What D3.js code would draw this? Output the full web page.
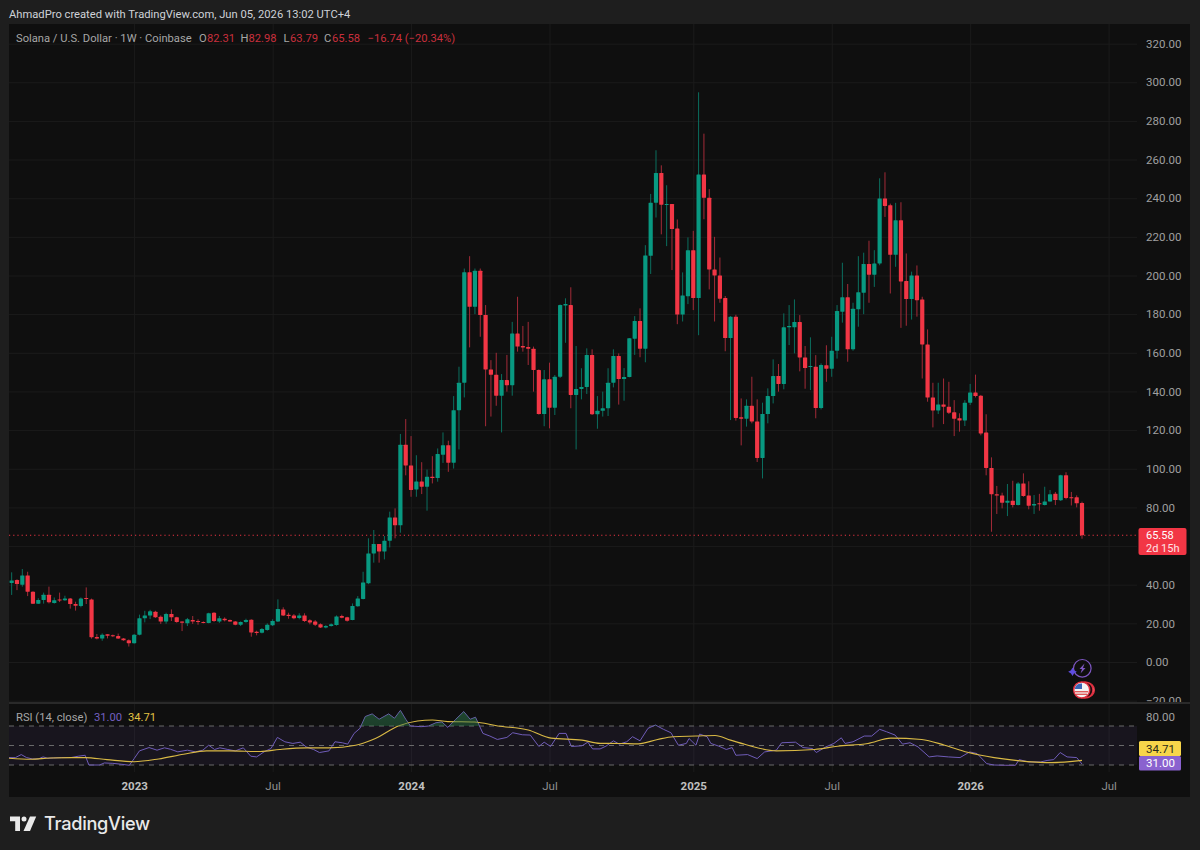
<!DOCTYPE html>
<html>
<head>
<meta charset="utf-8">
<script src="https://cdn.jsdelivr.net/npm/d3@7/dist/d3.min.js"></script>
<style>
html,body{margin:0;padding:0;background:#1e1e1e;width:1200px;height:850px;overflow:hidden}
text{font-family:Roboto,Inter,"Noto Sans",sans-serif}
</style>
</head>
<body>
<svg id="c" width="1200" height="850"></svg>
<script>
const opens=[40.9,42.4,40,44.8,36.4,30.2,32.1,34.8,30.5,32.4,31.9,32.8,30,29,33.1,32.4,12.9,12.1,14.3,13.8,13.4,12.2,11.2,9.7,14.1,22.6,24,26,23.4,20.9,24.8,23.1,20.9,20,21.7,21.2,20.7,20.2,25.5,20.9,22.4,21.7,21,19.3,20.7,21.9,15.7,15.2,16.6,19,21,27.2,24.5,24.1,22.8,24.1,21.6,20.9,19.5,17.9,18.6,19.1,23.8,23.1,21.7,28.8,32.6,40.7,56.2,61,57.2,62.8,74.8,70.7,112.4,101.7,89.3,93.4,90.7,95.9,95.2,107.3,112.2,103.1,130.3,144.5,201.7,183.8,202.4,179.5,151.4,148.7,137.8,145.9,143.2,170,163.5,163,162.1,151.1,128.3,146.3,131.6,147.6,184.5,184.7,138.2,141.3,142.3,158.9,128.2,130,131.3,144.5,158.3,146.4,147.5,167.3,176.5,162.1,210.2,237.7,253,236.6,237,224.3,179.8,189.3,213.1,188.3,252.2,240.2,203.1,200,188.3,167.6,178.7,126.6,125.9,132.6,124.5,105.6,128.3,137.6,148,143.9,173.2,173.2,175.9,157.6,152.8,152.8,131.4,153.5,151.8,161.1,181.3,188.7,161.8,182.5,191.1,205.9,200.4,206.2,239.9,236.4,210.7,228.6,197.1,187.8,200,187.6,164.3,136.9,130.2,133.3,132.1,129.2,126.1,125,134.2,139.4,137.8,118.7,100.4,86.8,86.2,82.4,83.5,81.2,92.4,86.1,81,82.1,81.2,83.1,87.1,83.7,96.6,85.2,85.2,82.31];
const highs=[46.4,42.8,48.1,46.7,36.6,33,35.9,39,33.4,35.9,34.3,33.1,31.2,33.4,38.6,32.8,14.5,14.8,14.3,14.2,14.7,12.4,11.7,14.5,24.5,26.5,27,26.5,24.1,25.5,27.2,23.4,21,22.8,23.8,22.1,21,25.5,25.8,23.8,23.1,22,21.2,21,22.4,22.1,16.2,17.6,20,22.1,32.4,28.3,25.5,24.8,25.2,25.2,22.1,21.7,20,19.1,20,24.1,24.5,23.4,30.3,34.1,46.7,64,68.3,61,65.2,77.8,79.5,118,125.7,116.9,107,103.4,99.6,106.5,110.5,118.8,114.5,137.6,152.8,203.6,210,203.6,203.6,184.7,156.2,160,149,158.9,176,189,173.9,176,163.2,151.4,151.1,154.9,148.5,185,188.2,193.9,163.5,152,162.3,161.8,137.6,139.9,152,161.8,159.7,152.1,167.6,179,183,215.7,242.2,264.8,257,246.7,237,229,201.6,219.7,223.1,294.8,273.4,244.7,220,209.3,189.4,179,179.7,136.4,135.9,147.6,135.9,134.2,141.6,156.6,154.2,180.4,184.7,187.6,179.5,163.5,168,158.8,154.5,163.9,168.3,184.7,206.6,195.6,185.9,210,211.8,218,213.1,250.3,253.4,237.2,237.6,237.9,211.4,202,205.2,189,172.1,144.5,144.5,146.7,145,135.5,128.7,135.5,143.9,148.7,138.2,128.2,105.9,91.1,87.6,92.1,93.8,93.1,97.6,93.5,86.4,87,90.7,89,88,96.9,98.2,88,86.2,82.98];
const lows=[34.7,37.2,39,34.1,30,30,30.2,30.3,30.2,31,31.6,27.6,26.6,28.3,30,12.1,11.7,11,12.2,12.9,11.9,11,8,9.5,13.8,20.5,22.2,22.8,19.7,19.8,21.2,20.3,16,18.6,19.7,19.3,20,20,20.7,20.2,21,20.7,19,18.6,20.3,13.1,13.8,14.8,16.2,18.6,20.7,23.8,22.4,22.1,22.1,20.7,19.5,18.6,17.6,17.4,18.3,18.8,22.6,20.9,21.6,28.6,32.4,40.3,51.4,51.4,53.1,59.3,64,66.9,96.6,85.5,85.5,86.9,78.3,92.4,93.3,103,98.4,100.1,110,136.9,162.8,180,168.3,122,127,132.6,118.8,139.9,137.8,160.6,160.6,153.7,139.9,128,122,120.9,127.8,147,165.2,131.3,110,135.9,138.7,127.8,120.7,127,127.3,142.1,133.2,135.2,147.3,158.9,157.7,155.1,200.8,230,221.3,215.2,202.8,174.8,176.2,185.2,182.1,169.1,229.1,192.8,176.2,185.9,160.8,125.2,124.9,112.1,121.8,123.5,103.5,95,123.5,133.8,139.9,141.1,164,159.7,150.4,141.4,140.7,126.1,130.7,145,147.6,157,175.6,155.4,161.1,173.5,180,185.9,194.1,205.3,230.3,190.7,204.5,172.9,174,177.2,178.7,146.7,134.7,121.4,128.3,123.1,128.3,116.9,119.2,122.1,133,136.9,117.3,96.6,67.4,76.6,79.5,75.5,80,81,85.5,79,76.6,78.3,81,83,81.2,83.3,84.2,81,80,63.79];
const closes=[42.2,40.3,44.8,36.4,30.2,32.1,34.8,30.9,32,32.1,32.8,30,29.1,32.8,32.8,12.8,12.1,14.1,13.6,13.3,12.1,11.2,9.7,14.1,22.6,24.1,26.2,23.1,20.9,24.8,23.1,20.7,20.3,22.1,20.9,20.7,20.3,25.2,21.2,22.6,21.6,20.9,19.3,20.7,21.7,15.3,15,17.1,19.3,21.2,27.4,24.1,23.8,22.6,24.1,21.2,20.5,19.3,17.9,18.6,19.5,23.6,22.9,21.4,29,32.9,41.2,56.2,61,57.2,62.8,74.8,70.7,112.4,101.7,89,93.4,90.7,95.9,95.2,107.6,112.2,103.1,130.3,144.5,201.7,183.8,202.4,179.5,151.4,148.7,137.8,145.9,143.2,170,163.2,162.8,162.1,151.1,128.3,146.3,131.6,147.6,184.7,185.2,138.2,141.3,142.3,158.9,128.2,130,131.3,144.5,158.3,146.4,147.5,167.5,176.5,162.1,210.4,237.7,253,236.6,237,224,179.8,189.7,213.1,188.3,252.2,240.2,203.1,200,188,167.6,178.7,126.3,125.9,132.6,124.5,105.6,128.3,137.6,148,143.9,173.2,173.9,175.9,157.6,152.1,153.2,131.4,153.7,151.8,161.1,181.6,188.7,161.8,182.8,191.3,205.9,200.4,206.2,239.9,236,210.7,228.6,196.9,187.8,200,187.2,164.3,136.9,130.2,133.3,132.1,129,125.9,125,134.2,139.4,137.6,118.3,100.4,86.8,86.1,82.4,83.5,81.2,92.4,85.9,80.9,81.8,81.6,83.1,86.8,83.8,96.6,84.9,84.7,82.1,65.58];

const rsiBars=[0.5,1.7,2.8,3.8,4.9,6,6.9,7.8,8.9,10.3,12.1,13.5,14.8,15.5,17.5,18.4,20,21.7,23.1,24,25,26.8,28.3,29.7,30.8,32.2,34,35.5,36.9,38,39.1,40.1,41.6,43,44.5,45.9,47,48.4,49.7,50.9,52.3,53.8,55.2,56.3,57.7,58.8,60.6,61.7,63.1,64.1,65.3,66.4,67.4,68.7,70,71.8,72.9,74,75,75.9,77.9,79.3,80.7,81.8,82.9,84.4,85.9,87.1,88.1,89.5,90.8,92.2,94,95.1,96.9,98.4,100,101,102.2,103.8,105.1,106.1,108.1,109.2,110.1,111.5,112.6,114,115.1,116.5,117.6,119,120.5,121.9,123.4,124.8,126.2,127.7,128.2,129.5,130.2,131.6,132.3,133.8,135.2,136.3,137,139.2,141,142.4,144.6,145.6,148.2,149.6,151.4,152.1,153.9,155.4,156.8,157.5,159,161.1,162.5,164,165.3,166.9,168.3,169.7,171.2,173.3,174.8,176.9,179.1,180.9,182.3,184.1,185.5,187.7,189.5,190.2,192,194.2,195.6,196.7,197.9,199.2,201,202];
const rsiValues=[37.6,37.6,40.7,37.6,36.2,36.2,38.3,36.9,37.2,37.6,37.6,39,40,30,30,32.1,31.7,30.7,29.7,36.6,44.5,47.9,45.2,47.6,46.2,43.5,45.2,43.5,45.2,50.3,45.9,47.6,45.9,44.5,47.6,39,38.3,43.5,46.9,58.3,53.8,52.1,53.4,48.6,45.9,42.8,44.5,53.8,52.8,51.4,62.4,67.6,79.7,82.4,76.9,82.4,77.9,86,76.9,70,69.3,70,73.4,74.1,68.6,76.9,84.8,76.9,79,62.4,59.7,56.2,58.3,63.1,61,60.7,49,53.4,49,62.4,62.4,49,49.7,53.4,46.5,46.5,49.3,54.8,51.4,53.8,59,54.8,67.6,71,66.6,63.1,50.3,52.1,57.2,50.3,61.7,59,52.1,49.3,45.9,47.9,40,40.7,36.6,43.4,45.2,52.8,53.4,47.9,46.9,42.8,48.6,52.1,57.9,52.1,53.8,59.7,59.7,66.6,64.1,60.7,51.4,52.8,48.6,38.3,39.3,38.3,37.6,43.4,41.7,31.4,30,29.7,29.7,35.5,33.1,33.1,34.8,35.5,42.8,38.3,37.6,31];
const maBars=[0.5,4.6,8.2,12.1,14.8,18.9,24,28.6,33.3,37.6,41.9,47.7,51.3,56.3,60.6,65.6,69.3,73.6,77.2,80,82.9,87.9,92.3,98,102.3,108.1,111.5,115.1,118.7,122.3,125.2,129.5,133.1,136,138.8,144.6,151.8,156.1,161.8,166.1,171.9,176.2,180.5,185.5,189.9,196.3,202];
const maValues=[37,35.9,37.2,37.6,37.6,35.5,33.4,36.2,41,44.5,44.5,43.8,45.9,47.6,47.6,50.3,57.2,70,75.2,76.2,74.5,74.1,70,65.9,57.6,55.5,52.2,52.1,51.7,56.2,59,59.7,60.3,55.5,51,44.5,45.9,49.3,52.1,57.6,56.2,50.3,43.1,37.6,34.5,32.4,34.71];

const priceTicks=d3.range(-20,321,20);
const hiddenTickLabels=[60];
const rsiLevels=[70,50,30];
const timeBars=[24,50,76,102,129,155,181,207];
const timeLabels=["2023","Jul","2024","Jul","2025","Jul","2026","Jul"];

const UP="#089981",DOWN="#f23645",UPW="#0b6f5f",DOWNW="#a32b38",GRID="#1b1b1b",AXT="#a0a0a0";
const L=9,R=1137,PR=1190,T=24,B=797,SEP=702,FS=11.5;

const svg=d3.select("#c");
const x=d3.scaleLinear().domain([1,202]).range([11.67,1082]);
const y=d3.scaleLinear().domain([0,320]).range([662,43.6]);
const ry=d3.scaleLinear().domain([30,70]).range([765,726]);
const defs=svg.append("defs");
defs.append("clipPath").attr("id","cMain").append("rect").attr("x",L).attr("y",T).attr("width",PR-L).attr("height",SEP-T);
defs.append("clipPath").attr("id","cPlot").append("rect").attr("x",L).attr("y",T).attr("width",R-L).attr("height",SEP-T);
defs.append("clipPath").attr("id","cRsi").append("rect").attr("x",L).attr("y",704).attr("width",R-L).attr("height",70);
defs.append("clipPath").attr("id","cOB").append("rect").attr("x",L).attr("y",704).attr("width",R-L).attr("height",ry(70)-704);
defs.append("clipPath").attr("id","cOS").append("rect").attr("x",L).attr("y",ry(30)).attr("width",R-L).attr("height",10);
const grad=defs.append("linearGradient").attr("id","gOB").attr("x1",0).attr("x2",0).attr("y1",0).attr("y2",1);
grad.append("stop").attr("offset","0").attr("stop-color","#2e7d4f").attr("stop-opacity",.5);
grad.append("stop").attr("offset","1").attr("stop-color","#2e7d4f").attr("stop-opacity",.25);

svg.append("rect").attr("width",1200).attr("height",850).attr("fill","#1e1e1e");
svg.append("rect").attr("x",L).attr("y",T).attr("width",PR-L).attr("height",B-T).attr("fill","#0f0f0f");

// vertical grid
const vg=svg.append("g").attr("transform",`translate(0,${SEP})`);
vg.call(d3.axisTop(x).tickValues(timeBars).tickSize(SEP-T).tickFormat(""));
vg.select(".domain").remove();
vg.selectAll("line").attr("stroke",GRID);
const vg2=svg.append("g").attr("transform",`translate(0,704)`);
vg2.call(d3.axisBottom(x).tickValues(timeBars).tickSize(68).tickFormat(""));
vg2.select(".domain").remove();
vg2.selectAll("line").attr("stroke",GRID);

// price axis with grid (the 60 label sits behind the price tag in the reference)
const pa=svg.append("g").attr("clip-path","url(#cMain)").append("g").attr("transform",`translate(${R},0)`);
pa.call(d3.axisRight(y).tickValues(priceTicks).tickSize(-(R-L)).tickPadding(9)
  .tickFormat(d=>hiddenTickLabels.includes(d)?"":d3.format(".2f")(d)));
pa.select(".domain").remove();
pa.selectAll("line").attr("stroke",GRID).attr("x2",-(R-L));
pa.selectAll("text").attr("x",9).attr("fill",AXT).attr("font-size",FS);

// last price dotted line
svg.append("line").attr("x1",L).attr("x2",R).attr("y1",y(closes[201])).attr("y2",y(closes[201]))
  .attr("stroke",DOWN).attr("stroke-opacity",.95).attr("stroke-width",1.1).attr("stroke-dasharray","1.2 3");

// candles
const idx=d3.range(opens.length);
const cg=svg.append("g").attr("clip-path","url(#cPlot)");
cg.selectAll("line.w").data(idx).join("line").attr("class","w")
  .attr("x1",i=>x(i+1)).attr("x2",i=>x(i+1)).attr("y1",i=>y(highs[i])).attr("y2",i=>y(lows[i]))
  .attr("stroke",i=>closes[i]>=opens[i]?UPW:DOWNW).attr("stroke-width",1);
cg.selectAll("rect.b").data(idx).join("rect").attr("class","b")
  .attr("x",i=>x(i+1)-2.1).attr("width",4.2)
  .attr("y",i=>y(Math.max(opens[i],closes[i])))
  .attr("height",i=>Math.max(1,Math.abs(y(opens[i])-y(closes[i]))))
  .attr("rx",.4)
  .attr("fill",i=>closes[i]>=opens[i]?UP:DOWN);

// separator
svg.append("rect").attr("x",L).attr("y",SEP).attr("width",PR-L).attr("height",2).attr("fill","#2a2a2a");

// RSI pane
svg.append("rect").attr("x",L).attr("y",ry(70)).attr("width",R-L).attr("height",ry(30)-ry(70)).attr("fill","#7e57c2").attr("fill-opacity",.09);
const rsiPts=rsiBars.map((b,i)=>[b,rsiValues[i]]);
const maPts=maBars.map((b,i)=>[b,maValues[i]]);
const rg=svg.append("g").attr("clip-path","url(#cRsi)");
svg.append("g").attr("clip-path","url(#cOB)").append("path")
  .attr("d",d3.area().x(d=>x(d[0])).y0(ry(70)).y1(d=>ry(d[1]))(rsiPts)).attr("fill","url(#gOB)");
svg.append("g").attr("clip-path","url(#cOS)").append("path")
  .attr("d",d3.area().x(d=>x(d[0])).y0(ry(30)).y1(d=>ry(d[1]))(rsiPts)).attr("fill","#b0353f").attr("fill-opacity",.4);
rg.selectAll("line.lv").data(rsiLevels).join("line").attr("class","lv")
  .attr("x1",L).attr("x2",R).attr("y1",d=>ry(d)).attr("y2",d=>ry(d))
  .attr("stroke","#787878").attr("stroke-dasharray","5 5").attr("stroke-opacity",.85);
rg.append("path").attr("d",d3.line().x(d=>x(d[0])).y(d=>ry(d[1])).curve(d3.curveLinear)(rsiPts))
  .attr("fill","none").attr("stroke","#6f5cb8").attr("stroke-width",1);
rg.append("path").attr("d",d3.line().x(d=>x(d[0])).y(d=>ry(d[1])).curve(d3.curveMonotoneX)(maPts))
  .attr("fill","none").attr("stroke","#d9b945").attr("stroke-width",1.1);

svg.append("text").attr("x",1146).attr("y",ry(80)+4.5).attr("fill",AXT).attr("font-size",FS).text("80.00");
svg.append("rect").attr("x",1139).attr("y",741).attr("width",42).attr("height",15).attr("rx",1.5).attr("fill","#f7d54a");
svg.append("text").attr("x",1146).attr("y",752.5).attr("fill","#2a2a18").attr("font-size",FS).text(maValues[maValues.length-1].toFixed(2));
svg.append("rect").attr("x",1139).attr("y",756).attr("width",42).attr("height",14.5).attr("rx",1.5).attr("fill","#8a62cf");
svg.append("text").attr("x",1146).attr("y",767).attr("fill","#fff").attr("font-size",FS).text(rsiValues[rsiValues.length-1].toFixed(2));

// time axis
const ta=svg.append("g").attr("transform","translate(0,773)");
ta.call(d3.axisBottom(x).tickValues(timeBars).tickSize(0).tickPadding(9).tickFormat((d,i)=>timeLabels[i]));
ta.select(".domain").remove();
ta.selectAll("text").attr("font-size",FS)
  .attr("fill",d=>timeLabels[timeBars.indexOf(d)]==="Jul"?"#8f8f8f":"#c0c0c0")
  .attr("font-weight",d=>timeLabels[timeBars.indexOf(d)]==="Jul"?400:700);

// price tag
svg.append("rect").attr("x",1138.5).attr("y",528).attr("width",48).attr("height",27).attr("rx",2).attr("fill",DOWN);
svg.append("text").attr("x",1146).attr("y",538.6).attr("fill","#fff").attr("font-size",11).text(closes[201].toFixed(2));
svg.append("text").attr("x",1146).attr("y",552).attr("fill","#ffe3e5").attr("font-size",11).text("2d 15h");

// header
svg.append("text").attr("x",9).attr("y",18).attr("fill","#cfd2d8").attr("font-size",11.2).text("AhmadPro created with TradingView.com, Jun 05, 2026 13:02 UTC+4");
const lg=svg.append("g").attr("font-size",11.2);
const GR="#a6a6a6",RD="#c92f3d";
[[16,"Solana / U.S. Dollar · 1W · Coinbase",GR],[199,"O",GR],[207,"82.31",RD],[240.5,"H",GR],[248.5,"82.98",RD],[283.5,"L",GR],[290,"63.79",RD],[324,"C",GR],[332,"65.58",RD],[367.5,"−16.74 (−20.34%)",RD]]
 .forEach(a=>lg.append("text").attr("x",a[0]).attr("y",41.5).attr("fill",a[2]).text(a[1]));
svg.append("text").attr("x",16).attr("y",721).attr("fill","#a6a6a6").attr("font-size",11.2).text("RSI (14, close)");
svg.append("text").attr("x",94).attr("y",721).attr("fill","#7460c0").attr("font-size",11.2).text("31.00");
svg.append("text").attr("x",128).attr("y",721).attr("fill","#e3c245").attr("font-size",11.2).text("34.71");

// event icons
const ic=svg.append("g");
ic.append("circle").attr("cx",1082.3).attr("cy",668.3).attr("r",8.8).attr("fill","#0f0f0f").attr("stroke","#7e57c2").attr("stroke-width",1.2);
ic.append("path").attr("d","M1084.5 663.5 L1079.5 669 L1082 669 L1080.5 673.5 L1085.5 668 L1083 668 Z").attr("fill","#7e57c2");
ic.append("path").attr("d","M1072.5 667.5 L1074 670.2 L1076.8 671.8 L1074 673.4 L1072.5 676 L1071 673.4 L1068.2 671.8 L1071 670.2 Z").attr("fill","#5f4de0");
ic.append("circle").attr("cx",1087.3).attr("cy",690).attr("r",7).attr("fill","#e6e6e6").attr("stroke","#e03040").attr("stroke-width",1.5);
ic.append("circle").attr("cx",1085).attr("cy",690).attr("r",8).attr("fill","#1a0d0f").attr("stroke","#e03040").attr("stroke-width",1.5);
ic.append("circle").attr("cx",1081.7).attr("cy",690).attr("r",8).attr("fill","#f4f4f4").attr("stroke","#e03040").attr("stroke-width",1.5);
ic.append("path").attr("d","M1075 687.5 A7 7 0 0 1 1082 683.5 L1082 689 L1075 689 Z").attr("fill","#3a66b5");
ic.append("rect").attr("x",1075).attr("y",691).attr("width",13).attr("height",1.4).attr("fill","#e05a5a");
ic.append("rect").attr("x",1076).attr("y",693.6).attr("width",11).attr("height",1.4).attr("fill","#e05a5a");

// logo
const lo=svg.append("g").attr("fill","#e9e9e9");
lo.append("path").attr("d","M10 816.5 H20 V831 H15.2 V821.2 H10 Z");
lo.append("circle").attr("cx",24).attr("cy",819).attr("r",2.5);
lo.append("path").attr("d","M30 816.5 H36.2 L30 831 H23.5 Z");
svg.append("text").attr("x",44).attr("y",829.5).attr("fill","#e9e9e9").attr("font-size",18.2).attr("font-weight",500).style("font-family","Inter,Roboto,sans-serif").attr("letter-spacing","-0.3").text("TradingView");
</script>
</body>
</html>
